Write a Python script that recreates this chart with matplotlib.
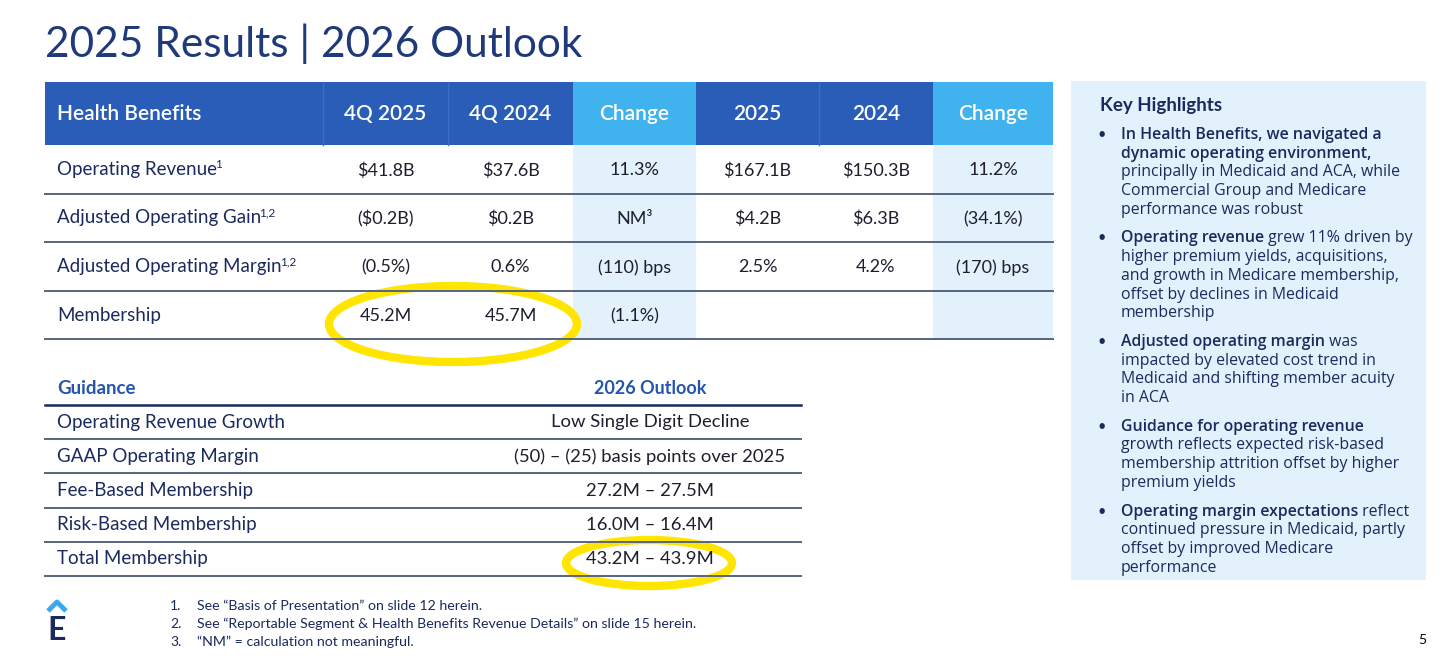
import matplotlib.pyplot as plt
from matplotlib.patches import Rectangle, Ellipse

plt.rcParams['font.family'] = ['Lato', 'DejaVu Sans']
plt.rcParams['text.parse_math'] = False

# ---- data ----
title = "2025 Results | 2026 Outlook"
header_first = "Health Benefits"
header_cols = ["4Q 2025", "4Q 2024", "Change", "2025", "2024", "Change"]
row_labels = ["Operating Revenue", "Adjusted Operating Gain", "Adjusted Operating Margin", "Membership"]
row_notes = ["1", "1,2", "1,2", ""]
q4_2025 = ["$41.8B", "($0.2B)", "(0.5%)", "45.2M"]
q4_2024 = ["$37.6B", "$0.2B", "0.6%", "45.7M"]
q_change = ["11.3%", "NM³", "(110) bps", "(1.1%)"]
fy_2025 = ["$167.1B", "$4.2B", "2.5%", ""]
fy_2024 = ["$150.3B", "$6.3B", "4.2%", ""]
fy_change = ["11.2%", "(34.1%)", "(170) bps", ""]

guide_labels = ["Operating Revenue Growth", "GAAP Operating Margin", "Fee-Based Membership",
                "Risk-Based Membership", "Total Membership"]
guide_values = ["Low Single Digit Decline", "(50) – (25) basis points over 2025", "27.2M – 27.5M",
                "16.0M – 16.4M", "43.2M – 43.9M"]

highlights = [
    [("In Health Benefits, we navigated a", "bold")],
    [("dynamic operating environment,", "bold")],
    [("principally in Medicaid and ACA, while", "normal")],
    [("Commercial Group and Medicare", "normal")],
    [("performance was robust", "normal")],
    None,
    [("Operating revenue", "bold"), (" grew 11% driven by", "normal")],
    [("higher premium yields, acquisitions,", "normal")],
    [("and growth in Medicare membership,", "normal")],
    [("offset by declines in Medicaid", "normal")],
    [("membership", "normal")],
    None,
    [("Adjusted operating margin", "bold"), (" was", "normal")],
    [("impacted by elevated cost trend in", "normal")],
    [("Medicaid and shifting member acuity", "normal")],
    [("in ACA", "normal")],
    None,
    [("Guidance for operating revenue", "bold")],
    [("growth reflects expected risk-based", "normal")],
    [("membership attrition offset by higher", "normal")],
    [("premium yields", "normal")],
    None,
    [("Operating margin expectations", "bold"), (" reflect", "normal")],
    [("continued pressure in Medicaid, partly", "normal")],
    [("offset by improved Medicare", "normal")],
    [("performance", "normal")],
]

footnotes = ["See “Basis of Presentation” on slide 12 herein.",
             "See “Reportable Segment & Health Benefits Revenue Details” on slide 15 herein.",
             "“NM” = calculation not meaningful."]

# ---- colours ----
NAVY = "#1b2a5e"
DARK_BLUE = "#2a5db8"
LIGHT_BLUE = "#40b3ee"
PALE = "#e2f1fb"
LINE = "#55657f"
YELLOW = "#ffe500"

fig = plt.figure(figsize=(14.56, 6.66), dpi=100)
ax = fig.add_axes([0, 0, 1, 1])
ax.set_xlim(0, 1456)
ax.set_ylim(666, 0)
ax.axis("off")
renderer = fig.canvas.get_renderer()


def width_of(t):
    return t.get_window_extent(renderer).width


ax.text(45, 44, title, fontsize=30.5, color="#1f3a7a", va="center", ha="left")

# ---- results table ----
edges = [45, 323, 448, 573, 696, 819, 933, 1053]
head_top, head_bot = 82, 145
row_h = 48.6
change_idx = [2, 5]

for i in range(len(header_cols)):
    x0, x1 = edges[i + 1], edges[i + 2]
    fc = LIGHT_BLUE if i in change_idx else DARK_BLUE
    ax.add_patch(Rectangle((x0, head_top), x1 - x0, head_bot - head_top, fc=fc, ec="none"))
    if i in change_idx:
        ax.add_patch(Rectangle((x0, head_bot), x1 - x0, row_h * 4, fc=PALE, ec="none"))
ax.add_patch(Rectangle((edges[0], head_top), edges[1] - edges[0], head_bot - head_top, fc=DARK_BLUE, ec="none"))
for x in [edges[1], edges[2], edges[5]]:
    ax.plot([x, x], [head_top, head_bot], color="#3c6cc6", lw=1)

ax.text(57, 114, header_first, fontsize=15, color="white", weight="semibold", va="center", ha="left")
for i, h in enumerate(header_cols):
    cx = (edges[i + 1] + edges[i + 2]) / 2
    ax.text(cx, 114, h, fontsize=15, color="white", weight="semibold", va="center", ha="center")

cols = [q4_2025, q4_2024, q_change, fy_2025, fy_2024, fy_change]
for r, lab in enumerate(row_labels):
    cy = head_bot + row_h * (r + 0.5)
    t = ax.text(57, cy, lab, fontsize=13.5, color=NAVY, va="center", ha="left")
    if row_notes[r]:
        w = width_of(t)
        ax.text(57 + w - 2, cy - 5, row_notes[r], fontsize=8.5, color=NAVY, va="center", ha="left")
    for c, vals in enumerate(cols):
        cx = (edges[c + 1] + edges[c + 2]) / 2
        ax.text(cx, cy + 1, vals[r], fontsize=13, color="#1e1e2e", va="center", ha="center")
    ly = head_bot + row_h * (r + 1)
    ax.plot([edges[0], edges[-1]], [ly, ly], color=LINE, lw=1.4)

# ---- guidance table ----
g_x0, g_x1, g_cx = 45, 801, 650
ax.text(57, 389, "Guidance", fontsize=13.5, color="#2456b0", weight="bold", va="center")
ax.text(g_cx, 389, "2026 Outlook", fontsize=13, color="#2456b0", weight="bold", va="center", ha="center")
ax.plot([g_x0, g_x1], [405, 405], color="#1b2a5e", lw=1.8)
g_h = 34.2
for r, (lab, val) in enumerate(zip(guide_labels, guide_values)):
    cy = 405 + g_h * (r + 0.5)
    ax.text(57, cy, lab, fontsize=13.5, color=NAVY, va="center")
    ax.text(g_cx, cy, val, fontsize=13.3, color="#1e1e2e", va="center", ha="center")
    ly = 405 + g_h * (r + 1)
    ax.plot([g_x0, g_x1], [ly, ly], color=LINE, lw=1.4)

# ---- yellow marker circles ----
ax.add_patch(Ellipse((453, 324), 248, 76, fill=False, ec=YELLOW, lw=6))
ax.add_patch(Ellipse((649, 563), 166, 46, fill=False, ec=YELLOW, lw=6))

# ---- key highlights panel ----
ax.add_patch(Rectangle((1071, 81), 355, 499, fc=PALE, ec="none"))
ax.text(1100, 105, "Key Highlights", fontsize=13.5, color=NAVY, weight="bold", va="center")
y = 135
step = 18.7
first = True
for line in highlights:
    if line is None:
        y += 10
        first = True
        continue
    if first:
        ax.text(1102, y, "•", fontsize=10.5, color=NAVY, va="center", ha="center")
        first = False
    x = 1121
    for txt, wt in line:
        t = ax.text(x, y, txt, fontsize=11.4, color=NAVY,
                    weight="semibold" if wt == "bold" else "normal",
                    va="center", ha="left", family=["Open Sans", "DejaVu Sans"])
        x += width_of(t)
    y += step

# ---- footnotes + logo ----
for i, note in enumerate(footnotes):
    fy = 606 + i * 18
    ax.text(170, fy, f"{i + 1}.", fontsize=10, color=NAVY, va="center")
    ax.text(197, fy, note, fontsize=10.2, color=NAVY, va="center")

ax.plot([48, 57, 66], [611, 602, 611], color="#3aa8ea", lw=3.5, solid_capstyle="butt")
ax.text(57, 631, "E", fontsize=23, color=NAVY, weight="bold", va="center", ha="center")
ax.text(1422, 640, "5", fontsize=10, color="black", va="center", ha="center")

fig.savefig("out.png", dpi=100, facecolor="white")
